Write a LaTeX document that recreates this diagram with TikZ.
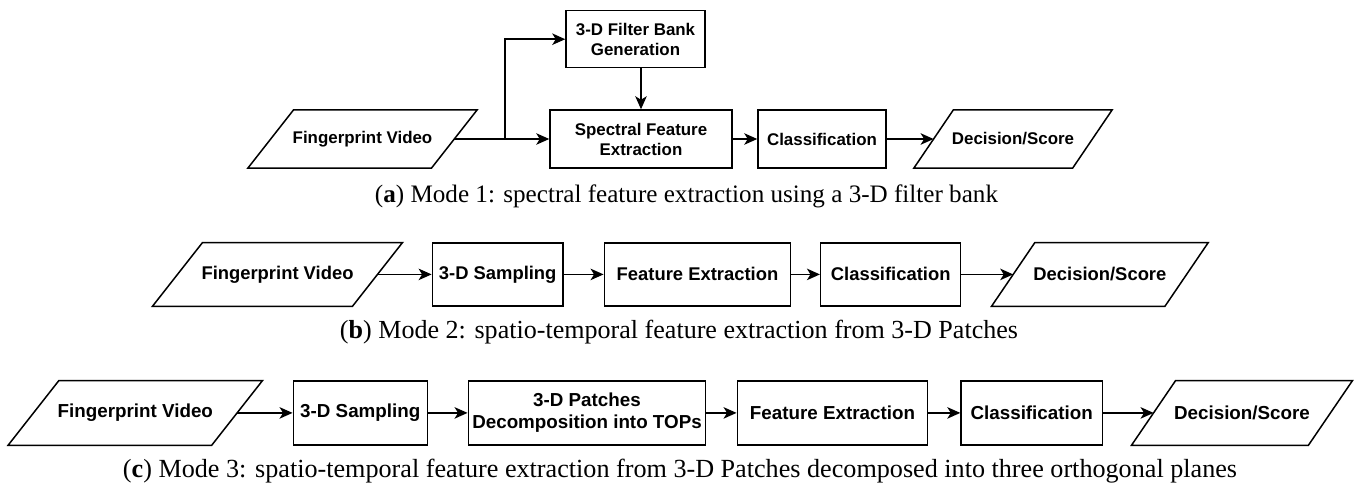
\documentclass[tikz,border=0pt]{standalone}
\usepackage{graphicx}
\usepackage{fontspec}
\newfontfamily\boxfont{Liberation Sans}
\newfontfamily\capfont{Liberation Serif}
\usetikzlibrary{arrows.meta,calc}
\tikzset{
  box/.style={draw, line width=1.5pt, fill=white, inner sep=2pt, align=center},
  pnode/.style={inner sep=0pt, align=center},
  edge/.style={line width=1.5pt},
  arr/.style={line width=1.5pt, -{Stealth[length=13pt,width=11.5pt,inset=3.5pt]}},
  rowa/.style={font=\boxfont\bfseries\fontsize{16.9}{20}\selectfont},
  rowb/.style={font=\boxfont\bfseries\fontsize{18.4}{21.5}\selectfont},
  rowc/.style={font=\boxfont\bfseries\fontsize{18.8}{21.7}\selectfont},
  captext/.style={font=\capfont\fontsize{22}{26}\selectfont, inner sep=0pt}
}
% name, style, x, y, mid width, height, slant, text
\newcommand{\pgram}[8]{%
  \node[pnode,#2,minimum width=#5pt,minimum height=#6pt] (#1) at (#3,#4) {#8};
  \draw[edge] ($(#1.north west)+(#7/2,0)$) -- ($(#1.north east)+(#7/2,0)$)
    -- ($(#1.south east)-(#7/2,0)$) -- ($(#1.south west)-(#7/2,0)$) -- cycle;}
\begin{document}
\begin{tikzpicture}[x=1pt,y=-1pt]
\useasboundingbox[fill=white] (0,0) rectangle (1357,488);
% ---------- row (a)
\pgram{fva}{rowa}{362.5}{139}{183.2}{58}{45.8}{Fingerprint Video}
\node[box,rowa,minimum width=139pt,minimum height=57pt] (fbg) at (635.5,39.2) {3-D Filter Bank\\Generation};
\node[box,rowa,minimum width=182pt,minimum height=58pt] (sfe) at (641,139) {Spectral Feature\\Extraction};
\node[box,rowa,minimum width=128pt,minimum height=58pt] (cla) at (822,139) {Classification};
\pgram{dsa}{rowa}{1013}{139}{158.4}{58}{39.6}{Decision/Score}
\coordinate (ja) at (505,139);
\draw[arr] (fva.east) -- (sfe.west);
\draw[arr] (ja) |- (fbg.west);
\draw[arr] (sfe.north |- fbg.south) -- (sfe.north);
\draw[arr] (sfe.east) -- (cla.west);
\draw[arr] (cla.east) -- (dsa.west);
\node[captext] (capa) at (686.5,196) {\resizebox{623pt}{!}{(\textbf{a}) Mode 1: spectral feature extraction using a 3-D filter bank}};
% ---------- row (b)
\pgram{fvb}{rowb}{277.5}{274.4}{199.6}{63.3}{50}{Fingerprint Video}
\node[box,rowb,minimum width=130.7pt,minimum height=63.3pt] (sb) at (497.7,274.4) {3-D Sampling};
\node[box,rowb,minimum width=186.4pt,minimum height=63.3pt] (feb) at (697.5,274.4) {Feature Extraction};
\node[box,rowb,minimum width=140pt,minimum height=63.3pt] (clb) at (890.7,274.4) {Classification};
\pgram{dsb}{rowb}{1099.9}{274.4}{173}{63.3}{43.3}{Decision/Score}
\draw[arr] (fvb.east) -- (sb.west);
\draw[arr] (sb.east) -- (feb.west);
\draw[arr] (feb.east) -- (clb.west);
\draw[arr] (clb.east) -- (dsb.west);
\node[captext] (capb) at (679,332) {\resizebox{678pt}{!}{(\textbf{b}) Mode 2: spatio-temporal feature extraction from 3-D Patches}};
% ---------- row (c)
\pgram{fvc}{rowc}{135.3}{412.9}{203.2}{64.3}{50.8}{Fingerprint Video}
\node[box,rowc,minimum width=134pt,minimum height=64.3pt] (sc) at (360.3,412.9) {3-D Sampling};
\node[box,rowc,minimum width=237.4pt,minimum height=64.3pt,inner sep=1pt] (pc) at (587,412.9) {3-D Patches\\Decomposition into TOPs};
\node[box,rowc,minimum width=190.4pt,minimum height=64.3pt] (fec) at (832.5,412.9) {Feature Extraction};
\node[box,rowc,minimum width=141.3pt,minimum height=64.3pt] (clc) at (1031.7,412.9) {Classification};
\pgram{dsc}{rowc}{1242}{412.9}{176.5}{64.3}{44.1}{Decision/Score}
\draw[arr] (fvc.east) -- (sc.west);
\draw[arr] (sc.east) -- (pc.west);
\draw[arr] (pc.east) -- (fec.west);
\draw[arr] (fec.east) -- (clc.west);
\draw[arr] (clc.east) -- (dsc.west);
\node[captext] (capc) at (680,471) {\resizebox{1114pt}{!}{(\textbf{c}) Mode 3: spatio-temporal feature extraction from 3-D Patches decomposed into three orthogonal planes}};
\end{tikzpicture}
\end{document}
